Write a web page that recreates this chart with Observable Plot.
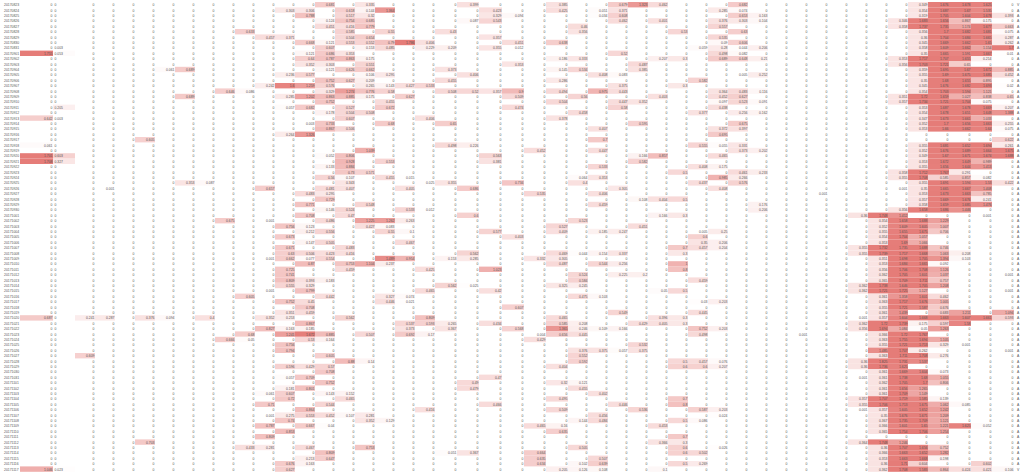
<!DOCTYPE html>
<html><head><meta charset="utf-8">
<style>html,body{margin:0;padding:0;background:#fff;overflow:hidden}svg{display:block}</style>
<script src="https://cdn.jsdelivr.net/npm/d3@7"></script>
<script src="https://cdn.jsdelivr.net/npm/@observablehq/plot@0.6"></script>
</head><body><div id="chart"></div>
<script>
// Row labels
const months = [["201708",23,31],["201709",1,30],["201710",1,31],["201711",1,17]];
const dates = months.flatMap(([m,a,b]) => d3.range(a,b+1).map(d => m + String(d).padStart(2,"0")));
const letters = dates.map((d,i) => (i===0||i===dates.length-1) ? "V" : "A");
const columnCount = 48;
// Non-zero cells per row: column, value, column, value ...
const cellsByRow = [
[14,.681,16,.335,21,.399,25,.385,28,.679,29,1.323,30,.462,34,.682,43,.349,44,1.676,45,1.678,46,1.625],
[12,.303,13,.306,15,.618,16,.144,17,1.364,22,.423,25,.425,27,.051,28,.371,33,.285,34,.074,43,.354,44,1.687,45,1.67,46,1.535],
[13,.788,15,.517,16,.32,22,.329,23,.094,27,.034,28,.608,34,.653,35,.163,43,.319,44,1.705,45,1.604,46,1.678,47,.393],
[14,.124,15,.754,16,.685,21,.087,22,.543,28,.462,30,.401,33,.376,34,.303,35,.104,42,.346,43,1.683,44,1.656,45,.867,46,.175],
[14,.451,15,.416,16,.779,26,.46,33,.557,42,.358,43,1.737,44,1.735,45,1.174,46,1.677,47,.663],
[10,.633,15,.585,17,.55,20,.43,26,.356,31,.53,34,.63,43,.356,44,1.7,45,1.682,46,1.681,47,.075],
[11,.457,12,.371,15,.504,16,.654,22,.357,33,.535,43,.36,44,1.704,45,1.684,46,1.665,47,.287],
[13,.668,14,.121,15,.553,16,.552,17,.79,18,1.786,19,.406,23,.451,25,.638,33,.09,34,.606,43,.345,44,1.669,45,1.662,46,1.65,47,.262],
[1,.003,14,.607,16,.153,17,.485,19,.229,20,.209,22,.355,23,.012,32,.059,33,.28,34,.044,35,.206,43,.358,44,1.609,45,1.662,46,1.154,47,1.7],
[0,1.755,1,.053,13,.121,14,.686,15,.353,28,.52,33,.498,34,.082,43,.35,44,1.665,45,1.591,46,1.667,47,.01],
[13,.64,14,.787,15,.863,16,.175,25,.186,26,.333,30,.207,31,.3,33,.689,34,.648,35,.21,42,.353,43,1.717,44,1.707,45,1.655,46,.214],
[13,.352,14,.303,16,.551,23,.353,29,.487,42,.356,43,1.703,44,1.721,45,.65],
[6,.061,7,.689,14,.121,15,.626,16,.662,20,.373,25,.145,26,.534,29,.385,43,.359,44,1.695,45,1.67,46,1.672,47,.885],
[12,.236,13,.577,16,.106,17,.295,21,.406,27,.408,28,.083,34,.005,35,.252,43,.355,44,1.69,45,1.675,46,1.685,47,.452],
[14,.752,15,.627,16,.209,20,.455,25,.286,32,.582,43,.35,44,1.68,45,1.655,46,.895],
[11,.242,12,1.6,13,1.259,14,.576,16,.265,17,.143,18,.427,19,.533,28,.375,31,.3,43,.345,44,1.676,45,1.682,46,1.693,47,.02],
[9,.646,10,.086,14,.329,15,1.274,16,.776,17,.58,20,.508,21,.52,22,.357,23,.9,25,.494,27,.975,28,.443,33,.364,34,.483,35,.116,43,.354,44,1.703,45,1.594,46,1.121],
[7,.689,12,.285,13,1.202,14,.863,15,.885,16,.175,18,.627,23,.509,26,.56,30,.403,33,.452,34,.627,42,.351,43,1.72,44,1.659,45,1.027,46,.838,47,.65],
[14,.752,17,.455,25,.504,28,.447,29,.352,33,.097,34,.523,35,.091,42,.357,43,1.734,44,1.721,45,1.704,46,.075],
[1,.205,12,.057,13,.682,15,.527,17,.672,23,.474,28,.58,33,.438,43,.353,44,1.687,45,1.678,46,1.669,47,.207],
[14,.178,15,.504,16,.508,26,.458,32,.377,34,.256,35,.162,43,.354,44,1.678,45,1.651,46,1.648,47,1.388],
[0,.642,1,.003,15,.607,19,.406,25,.378,43,.347,44,1.673,45,1.661,46,1.033],
[13,.003,14,.733,17,.68,20,.65,29,.595,34,.675,43,.352,44,1.7,45,1.656,46,1.663,47,.255],
[14,.867,15,.506,27,.407,33,.372,34,.397,43,.353,44,1.66,45,1.662,46,1.64,47,.075],
[12,.264,13,1.326,33,.695],
[5,.605,27,.7,47,.622],
[0,.061,20,.498,21,.226,32,.555,33,.055,34,.331,43,.355,44,1.681,45,1.652,46,1.694,47,.261],
[16,1.039,24,.452,27,.447,34,.373,35,.202,43,.352,44,1.676,45,1.689,46,1.664,47,1.675],
[0,1.701,1,.603,14,.052,15,.806,22,.563,29,.166,30,.857,33,.465,43,.349,44,1.67,45,1.671,46,1.674,47,1.688],
[0,1.708,1,.327,15,.928,17,.553,22,.381,29,.582,43,.353,44,1.672,45,1.649,46,.989],
[14,.133,15,.884,27,.533,32,.408,33,.175,43,.355,44,1.656,45,1.644,46,1.413],
[15,.73,16,.571,31,.5,34,.461,35,.233,42,.358,43,1.712,44,1.767,45,.291],
[14,.56,15,.107,17,.455,18,.015,26,.064,27,.353,33,.985,34,.266,42,.355,43,1.708,44,.585,45,.857,46,.082],
[7,.353,8,.087,15,.343,19,.025,20,.355,23,.734,26,.4,32,.437,34,.576,43,.355,44,1.691,45,1.594,46,1.53,47,.422],
[3,.001,11,.657,14,.481,15,.407,18,.405,21,.686,28,.305,33,.408,42,.001,43,.35,44,1.665,45,1.667,46,1.408],
[13,.483,14,.295,24,.535,27,.406,38,.001,43,.353,44,1.673,45,1.663,46,.785],
[14,.729,29,.108,30,.404,31,.5,43,.357,44,1.669,45,1.676,46,.241],
[13,.771,16,.548,27,.459,35,.176,43,.358,44,1.659,45,1.685,46,1.476],
[14,.146,15,.524,18,.533,19,.012,35,.206,42,.356,43,1.658,44,1.686,45,1.446],
[13,.708,15,.47,21,.6,30,.166,31,.3,40,.36,41,1.748,42,1.412,46,.001],
[9,.675,11,.001,14,.486,16,1.225,17,1.262,18,.263,26,.523,41,.354,42,1.658,43,1.688,44,1.229],
[12,.756,13,.123,16,.427,17,.083,25,.527,29,.451,41,.352,42,1.609,43,1.605,44,1.007],
[13,.212,14,.556,17,.55,18,.1,22,.577,25,.409,27,.185,28,.247,32,.005,33,.25,41,.355,42,1.655,43,1.675,44,.706],
[12,.673,23,.403,32,.6,41,.354,42,1.704,43,1.057],
[13,.147,14,.505,18,.467,32,.35,33,.206,41,.353,42,1.69,43,1.066],
[12,.671,15,.483,31,.7,32,.457,33,.204,40,.355,41,1.732,42,1.735,43,1.688,44,.746],
[12,.63,13,.506,14,.423,15,.416,21,.562,25,.469,26,.044,27,.154,28,.337,31,.3,40,.355,41,1.739,42,1.717,43,1.668,44,1.063,45,.208],
[11,.001,12,.662,13,.077,14,.554,17,1.489,18,.954,20,.153,21,.285,24,.332,25,.305,41,.351,42,1.698,43,1.705,44,1.394,45,.103],
[13,.87,15,.753,16,1.104,17,.237,25,.487,27,.544,28,.256,31,1,41,.353,42,1.684,43,1.665,44,.092],
[12,.725,15,.459,19,.425,22,1.023,31,.8,41,.356,42,1.706,43,1.708,44,1.126],
[12,.741,26,.524,28,.225,29,.2,41,.362,42,1.705,43,1.601,44,1.037,47,.001],
[12,.809,13,.393,14,.183,26,.584,32,.459,41,.365,42,1.709,43,1.711,44,.757],
[12,.555,13,.329,20,.562,21,.025,25,.325,26,.245,40,.362,41,1.738,42,1.646,43,1.705,44,1.208],
[11,.001,13,.799,19,.465,22,.42,30,.05,31,.5,40,.362,41,1.721,42,1.725,43,1.127,47,.001],
[10,.605,14,.442,17,.327,18,.074,26,.475,27,.103,41,.361,42,1.358,43,1.601,44,.462],
[12,.752,13,.45,17,.446,18,.021,32,.03,33,.203,41,.363,42,1.717,43,1.676,44,1.005],
[13,.708,23,.607,41,.355,42,1.721,43,1.587,44,.676],
[12,.351,13,.459,28,.549,32,.445,41,.361,42,1.439,44,.683,45,1.211,47,1.094],
[0,.687,2,.241,3,.287,5,.376,6,.094,8,.4,11,.352,12,.253,15,.562,19,.809,25,.465,30,.396,31,.3,40,.001,41,.357,42,1.604,43,1.668,44,1.663,45,1.607,46,1.661,47,.593],
[13,.867,18,.537,19,.593,20,.265,22,.434,25,.585,26,.208,29,.429,30,.405,31,.3,40,.362,41,1.72,42,1.739,43,.175,44,.597,45,1.58],
[11,.827,12,.163,13,.185,18,.373,20,.367,23,.568,25,1.365,26,.246,27,.109,28,.166,32,.752,33,.203,40,.356,41,1.694,42,1.084,43,.05,44,1.263],
[10,.68,12,1.241,13,1.672,14,.885,16,.507,18,.692,19,.17,24,.004,25,.656,26,.445,32,.498,37,.001,41,.366,42,1.72,43,1.767],
[9,.666,10,.05,13,.53,14,.164,24,.429,41,.363,42,1.755,43,1.694,44,1.105],
[12,.756,29,.532,41,.355,42,1.721,43,1.713,44,.329,45,.001],
[12,.794,26,.376,27,.375,28,.057,29,.375,41,1.485,42,1.707,43,.262,47,.001],
[2,.609,14,.605,26,.552,41,.363,42,1.711,43,1.708,44,.276],
[15,.88,16,.14,26,.592,31,.5,32,.457,33,.076,40,.36,41,1.825,42,1.731,43,1.537],
[12,.596,13,.429,14,.57,25,.404,31,.6,32,.6,33,.207,40,.36,41,1.736,42,1.625],
[14,.708,41,.361,42,1.669,43,1.604,44,.073],
[12,.057,13,.709,22,.47,40,.001,41,.361,42,1.738,43,1.68,44,1.055],
[14,.752,21,.49,25,.32,26,.121,41,.362,42,1.705,43,1.7,44,.806],
[12,.181,13,.801,21,.479,26,.455,41,.361,42,1.656,43,1.265],
[11,.061,12,.607,14,.143,15,.152,27,.402,41,.361,42,1.709,43,1.149],
[12,.72,15,.465,25,.495,31,.7,40,.357,41,1.707,42,1.719,43,1.585,44,.139],
[11,.71,14,.544,22,.466,28,.446,31,.8,40,.355,41,1.706,42,1.713,43,1.675,44,1.062,45,.085],
[13,.864,19,.416,25,.509,29,.536,32,.587,33,.203,40,.001,41,.357,42,1.605,43,1.652,44,1.242],
[11,.001,12,.275,13,.553,14,.452,15,.107,16,.281,27,.456,33,.024,41,.35,42,1.676,43,1.671,44,1.209],
[12,.74,16,.352,17,.129,26,.144,27,.484,31,.5,32,.086,41,.367,42,1.735,43,1.709,44,1.121],
[11,.787,13,.667,14,.04,24,.465,25,.16,30,.453,41,.366,42,1.601,43,1.65,44,1.221,45,1.625,46,.052],
[12,.853,25,.635,41,.365,42,1.754,43,1.706,44,1.254],
[11,.809,31,.7],
[5,.703,30,.366,31,.3,40,.364,41,1.748,42,1.246],
[10,.433,11,.281,13,.467,16,.753,26,.505,31,.6,33,.026,41,.36,42,1.707,43,1.656,44,.752],
[14,.809,20,.051,21,.367,24,.664,31,.6,32,.502,41,.366,42,1.663,43,1.652,44,1.282],
[13,.213,14,.647,24,.635,27,.507,41,.353,42,1.663,43,1.668,44,.198],
[12,.676,13,.163,24,.634,26,.102,27,.639,31,.5,32,.269,41,.36,42,1.71,43,.604,46,.602],
[0,1.046,1,.023,12,.627,25,.205,26,.126,27,.108,30,.1,41,.362,42,1.708,43,1.583,44,.864,45,.424,46,.421,47,.106]
];
// Scale option: where each column boundary falls (piecewise x scale)
const columnDomain = d3.range(-1, columnCount + 2);
const columnRange = [3.5,20,53,75,95,115,135,155,175,195,215,235,255,275,295,315,335,355,375,395,415,435,457,479,502,524,546,568,588,608,628,648,668,688,708,728,748,768,788,808,828,848,868,888,908,928,949,971,992,1014,1024];

const cells = [];
cellsByRow.forEach((row, r) => {
  const m = new Map();
  for (let i = 0; i < row.length; i += 2) m.set(row[i], row[i+1]);
  for (let c = 0; c < columnCount; c++) cells.push({r, c, v: m.get(c) ?? 0});
});
const rowIndex = dates.map((d,i) => ({i, d, l: letters[i]}));
const font = "Liberation Sans";
const chart = Plot.plot({
  width: 1024, height: 475, margin: 0,
  style: {background: "#fff", fontFamily: font},
  x: {type: "linear", axis: null, domain: columnDomain, range: columnRange},
  y: {type: "linear", axis: null, domain: [-0.5, dates.length - 0.5], range: [2, 471.8]},
  color: {type: "linear", domain: [0, 1.7], range: ["#ffffff", "#e57c78"], clamp: true},
  marks: [
    Plot.rect(cells.filter(d => d.v > 0), {x1: "c", x2: d => d.c + 1, y1: d => d.r - 0.5, y2: d => d.r + 0.5, fill: "v"}),
    Plot.text(cells.filter(d => d.c !== 1), {x: d => d.c + 1, y: "r", text: d => String(d.v), textAnchor: "end", dx: -1, fontSize: 3.4, fill: "#555"}),
    Plot.text(cells.filter(d => d.c === 1), {x: "c", y: "r", text: d => String(d.v), textAnchor: "start", dx: 1, fontSize: 3.4, fill: "#555"}),
    Plot.text(rowIndex, {x: -1, y: "i", text: "d", textAnchor: "start", fontSize: 3.4, fill: "#555"}),
    Plot.text(rowIndex, {x: 48, y: "i", text: "l", textAnchor: "start", dx: 2.5, fontSize: 3.4, fill: "#555"})
  ]
});
document.getElementById("chart").appendChild(chart);
</script></body></html>
